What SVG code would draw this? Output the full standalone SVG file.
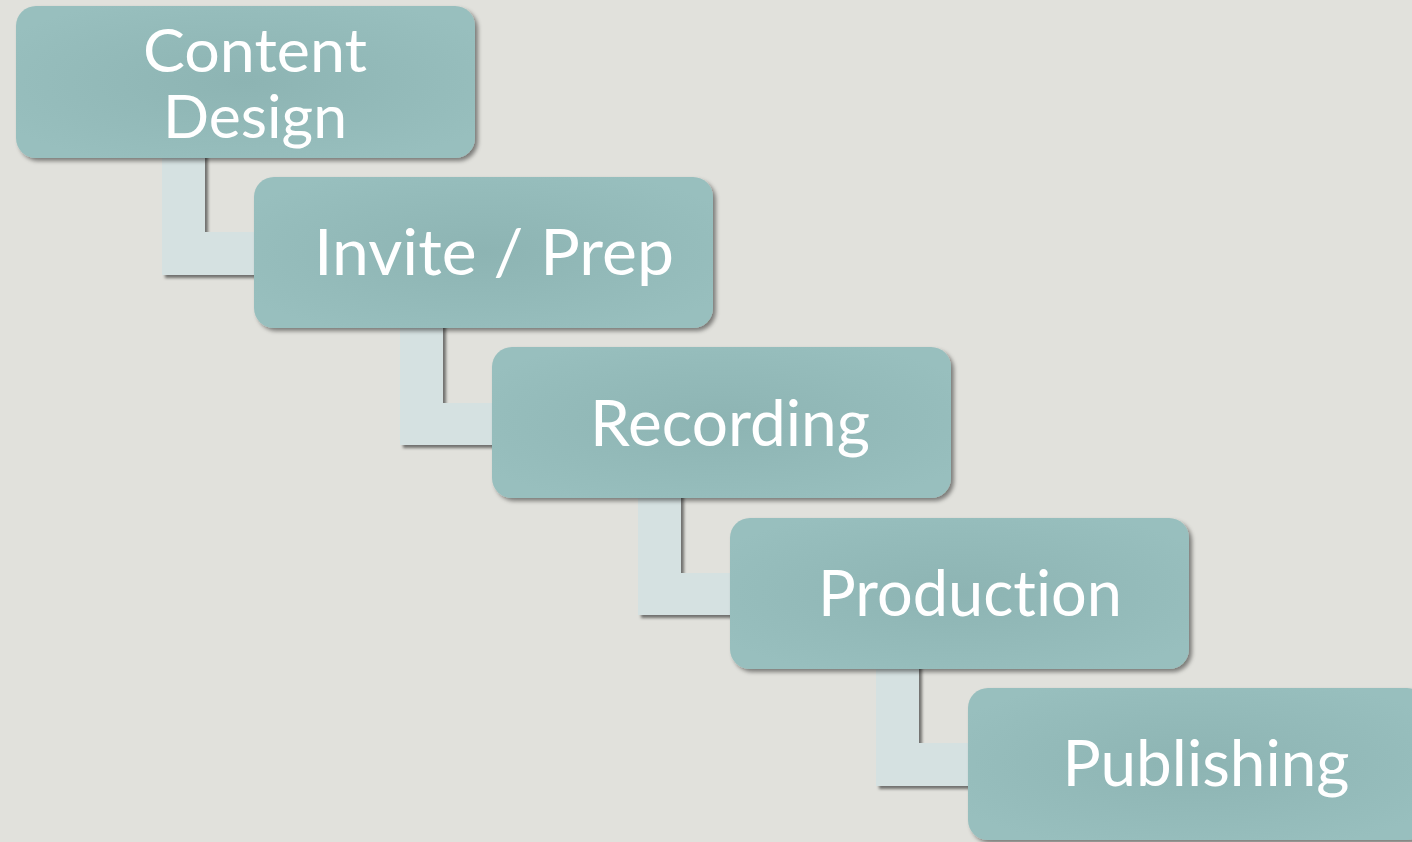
<svg xmlns="http://www.w3.org/2000/svg" width="1412" height="842" viewBox="0 0 1412 842">
<defs>
<radialGradient id="boxg" cx="0.5" cy="0.5" r="0.6">
<stop offset="0" stop-color="#8db4b3"/>
<stop offset="1" stop-color="#98bfbe"/>
</radialGradient>
<filter id="sh" x="-10%" y="-10%" width="130%" height="130%">
<feDropShadow dx="3" dy="3" stdDeviation="2" flood-color="#000" flood-opacity="0.45"/>
</filter>
<filter id="shc" x="-10%" y="-10%" width="130%" height="130%">
<feDropShadow dx="3" dy="3" stdDeviation="1.5" flood-color="#000" flood-opacity="0.5"/>
</filter>
</defs>
<style>
.box{fill:url(#boxg);filter:url(#sh)}
.con{fill:#d5e1e1;filter:url(#shc)}
.lbl{font-family:Lato,"Open Sans",sans-serif;font-size:64px;fill:#ffffff;text-anchor:middle;font-variant-ligatures:none;font-feature-settings:"liga" 0}
.two{font-size:60px}
</style>
<rect width="1412" height="842" fill="#e1e1dc"/>
<g id="connectors">
<path class="con" d="M162 150 H205 V232 H262 V275 H162 Z"/>
<path class="con" d="M400 320 H443 V403 H500 V445 H400 Z"/>
<path class="con" d="M638 490 H681 V573 H738 V615 H638 Z"/>
<path class="con" d="M876 661 H919 V743 H976 V786 H876 Z"/>
</g>
<g id="node-content-design">
<rect class="box" x="16" y="6" width="459" height="152" rx="20"/>
<text class="lbl two" x="255" y="72" textLength="224" lengthAdjust="spacingAndGlyphs">Content</text>
<text class="lbl two" x="255" y="138" textLength="184" lengthAdjust="spacingAndGlyphs">Design</text>
</g>
<g id="node-invite-prep">
<rect class="box" x="254" y="177" width="459" height="151" rx="20"/>
<text class="lbl" x="494" y="275" textLength="360" lengthAdjust="spacingAndGlyphs">Invite / Prep</text>
</g>
<g id="node-recording">
<rect class="box" x="492" y="347" width="459" height="151" rx="20"/>
<text class="lbl" x="730" y="446" textLength="280" lengthAdjust="spacingAndGlyphs">Recording</text>
</g>
<g id="node-production">
<rect class="box" x="730" y="518" width="459" height="151" rx="20"/>
<text class="lbl" x="970" y="616" textLength="304" lengthAdjust="spacingAndGlyphs">Production</text>
</g>
<g id="node-publishing">
<rect class="box" x="968" y="688" width="459" height="152" rx="20"/>
<text class="lbl" x="1206" y="786" textLength="287" lengthAdjust="spacingAndGlyphs">Publishing</text>
</g>
</svg>
